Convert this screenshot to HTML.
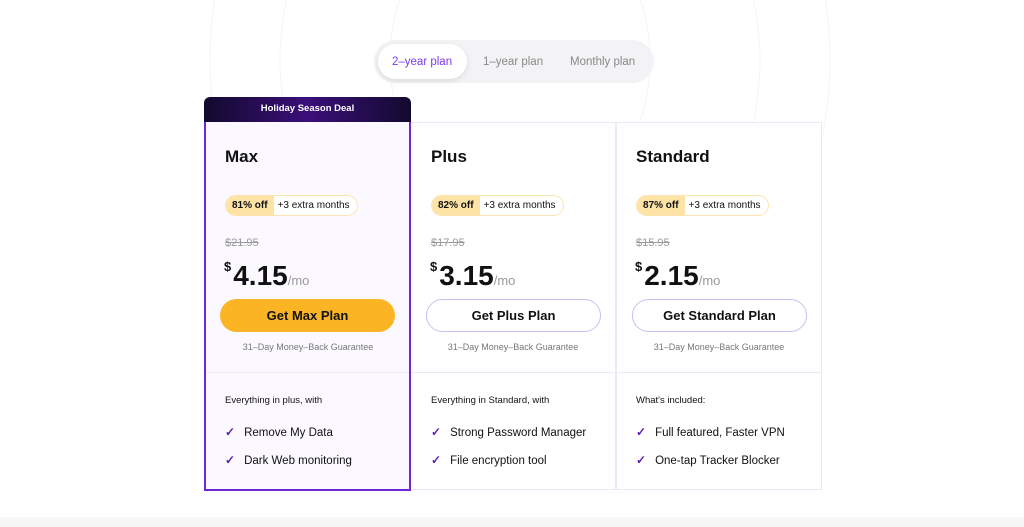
<!DOCTYPE html>
<html><head><meta charset="utf-8"><style>
*{margin:0;padding:0;box-sizing:border-box}
body{width:1024px;height:527px;background:#fff;font-family:"Liberation Sans",Arial,sans-serif;position:relative;overflow:hidden;color:#111}
.a{position:absolute}
.toggle{left:374px;top:40px;width:280px;height:43px;background:#f3f3f5;border-radius:22px}
.act{left:378px;top:44px;width:89px;height:35px;background:#fff;border-radius:18px;box-shadow:0 2px 6px rgba(0,0,0,.1)}
.tt{font-size:11.5px;top:56px}
.col{top:122px;width:206px;height:368px;border:1px solid #ece8f6;background:#fff}
.title{font-size:17px;font-weight:bold;top:147px}
.badge{height:21px;border:1px solid #fde3b0;border-radius:11px;font-size:10px;display:flex;align-items:center;overflow:hidden;background:#fff}
.badge b{background:#fde3a6;height:100%;display:flex;align-items:center;padding:0 6px;font-weight:bold}
.badge span{padding:0 7px 0 4px}
.old{font-size:11px;color:#999;text-decoration:line-through;top:237px}
.price{top:259px;font-size:28px;font-weight:bold;white-space:nowrap}
.price sup{font-size:13px;vertical-align:14px;margin-right:2px}
.price small{font-size:13px;color:#999;font-weight:normal}
.btn{top:299px;width:175px;height:33px;border-radius:17px;font-size:13px;font-weight:bold;display:flex;align-items:center;justify-content:center}
.g{top:342px;font-size:9px;color:#777;width:206px;text-align:center}
.div{top:372px;height:1px;background:#ece8f6}
.h{top:395px;font-size:9.5px}
.f{font-size:11.5px}
.f i{color:#5b21b6;font-style:normal;font-weight:bold;margin-right:9px;font-size:12px}
</style></head><body>
<svg class="a" style="left:0;top:0" width="1024" height="300"><g fill="none" stroke="#f6f6f6" stroke-width="1.2"><ellipse cx="520" cy="60" rx="130" ry="160"/><ellipse cx="520" cy="60" rx="240" ry="260"/><ellipse cx="520" cy="60" rx="310" ry="340"/></g></svg>
<div class="a" style="left:0;top:517px;width:1024px;height:10px;background:#f7f7f8"></div>
<div class="a toggle"></div><div class="a act"></div>
<div class="a tt" style="left:392px;color:#7c3aed">2–year plan</div>
<div class="a tt" style="left:483px;color:#888">1–year plan</div>
<div class="a tt" style="left:570px;color:#888">Monthly plan</div>

<div class="a col" style="left:410px"></div>
<div class="a col" style="left:616px"></div>
<div class="a" style="left:204px;top:97px;width:207px;height:26px;border-radius:6px 6px 0 0;background:linear-gradient(90deg,#120a2e,#3b0f7a 50%,#120a2e);color:#fff;font-size:9.5px;font-weight:bold;text-align:center;line-height:24px">Holiday Season Deal</div>
<div class="a" style="left:204px;top:122px;width:207px;height:369px;border:2px solid #6d28d9;border-top:none;background:#fbf9ff"></div>
<div class="a div" style="left:206px;width:203px;background:#efeafb"></div>
<div class="a div" style="left:411px;width:410px"></div>

<div class="a title" style="left:225px">Max</div>
<div class="a title" style="left:431px">Plus</div>
<div class="a title" style="left:636px">Standard</div>

<div class="a badge" style="left:225px;top:195px"><b>81% off</b><span>+3 extra months</span></div>
<div class="a badge" style="left:431px;top:195px"><b>82% off</b><span>+3 extra months</span></div>
<div class="a badge" style="left:636px;top:195px"><b>87% off</b><span>+3 extra months</span></div>

<div class="a old" style="left:225px">$21.95</div>
<div class="a old" style="left:431px">$17.95</div>
<div class="a old" style="left:636px">$15.95</div>

<div class="a price" style="left:224px"><sup>$</sup>4.15<small>/mo</small></div>
<div class="a price" style="left:430px"><sup>$</sup>3.15<small>/mo</small></div>
<div class="a price" style="left:635px"><sup>$</sup>2.15<small>/mo</small></div>

<div class="a btn" style="left:220px;background:#fbb424">Get Max Plan</div>
<div class="a btn" style="left:426px;border:1px solid #c9bff0">Get Plus Plan</div>
<div class="a btn" style="left:632px;border:1px solid #c9bff0">Get Standard Plan</div>

<div class="a g" style="left:205px">31–Day Money–Back Guarantee</div>
<div class="a g" style="left:410px">31–Day Money–Back Guarantee</div>
<div class="a g" style="left:616px">31–Day Money–Back Guarantee</div>

<div class="a h" style="left:225px">Everything in plus, with</div>
<div class="a h" style="left:431px">Everything in Standard, with</div>
<div class="a h" style="left:636px">What's included:</div>

<div class="a f" style="left:225px;top:425px"><i>✓</i>Remove My Data</div>
<div class="a f" style="left:225px;top:453px"><i>✓</i>Dark Web monitoring</div>
<div class="a f" style="left:431px;top:425px"><i>✓</i>Strong Password Manager</div>
<div class="a f" style="left:431px;top:453px"><i>✓</i>File encryption tool</div>
<div class="a f" style="left:636px;top:425px"><i>✓</i>Full featured, Faster VPN</div>
<div class="a f" style="left:636px;top:453px"><i>✓</i>One-tap Tracker Blocker</div>
</body></html>
